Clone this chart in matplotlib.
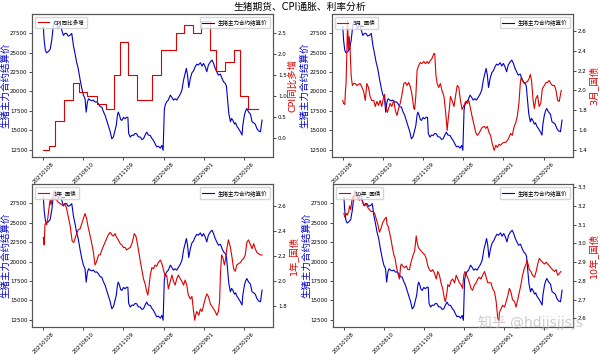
import matplotlib
matplotlib.use("Agg")
import matplotlib.pyplot as plt
from matplotlib.ticker import MultipleLocator
from matplotlib.lines import Line2D

plt.rcParams['font.family'] = ['DejaVu Sans', 'Noto Sans CJK SC']
plt.rcParams['axes.unicode_minus'] = False

# ---------------- data ----------------
date_tick_pos = [0, 100, 200, 300, 400, 500]
date_labels = ['20210108', '20210610', '20211109', '20220408', '20220901', '20230206']

# pig futures main-contract settlement price (trading-day index, value)
pig_idx = [0, 2, 5, 8, 12, 17, 21, 25, 29, 33, 37, 42, 46, 50, 54, 58, 62, 67, 71, 75,
           79, 83, 87, 92, 96, 100, 104, 107, 110, 113, 117, 121, 125, 129, 133, 137, 142, 146, 150, 154,
           158, 162, 167, 171, 175, 179, 182, 185, 187, 190, 193, 196, 200, 204, 208, 211, 213, 217, 221, 225,
           229, 233, 237, 242, 246, 250, 254, 258, 262, 267, 271, 275, 279, 283, 287, 292, 296, 299, 302, 304,
           308, 312, 317, 321, 325, 329, 333, 337, 342, 346, 350, 354, 357, 360, 363, 367, 371, 375, 379, 383,
           387, 392, 396, 400, 404, 408, 412, 417, 421, 425, 429, 433, 437, 442, 446, 450, 454, 457, 460, 463,
           467, 470, 473, 477, 480, 483, 487, 492, 496, 498, 502, 505, 508, 512, 517, 521, 525, 529, 533, 537,
           542, 546]
pig_val = [28310, 26600, 25310, 24970, 25100, 25400, 26600, 28490, 29100, 28740, 28060, 28740, 27890, 27200, 27460, 27460, 27110, 27240, 27460, 25910,
           24890, 23770, 22960, 21460, 20390, 19530, 19100, 17340, 18630, 19060, 18890, 18800, 18890, 18630, 18670, 18460, 18030, 17990, 17390, 16960,
           16310, 15630, 14810, 13910, 14170, 15030, 15630, 16960, 17340, 16960, 16400, 16270, 16660, 16490, 16700, 16660, 14600, 14130, 14390, 14340,
           14600, 14560, 14170, 14130, 13830, 13910, 14390, 14770, 14390, 14340, 13960, 13700, 13270, 12880, 12970, 12710, 13060, 12430, 17600, 18240,
           18670, 18890, 19530, 19230, 18890, 19060, 18890, 19230, 19660, 20170, 21460, 22310, 22960, 22100, 20510, 21670, 22400, 22660, 23170, 23510,
           23390, 23690, 23260, 23600, 23170, 22530, 23390, 23810, 24030, 23600, 22960, 22530, 22100, 22230, 21670, 21240, 21030, 20690, 18890, 17170,
           16100, 16530, 16310, 15800, 15970, 15540, 15240, 14810, 14390, 15670, 16960, 17510, 17810, 17390, 17080, 16100, 15970, 15800, 15240, 14940,
           14810, 16310]

# CPI YoY (step: start index of each month, value)
cpi_idx = [0, 15, 29, 52, 73, 90, 110, 133, 157, 177, 192, 212, 235, 271, 293, 331, 352, 373, 394, 415,
           432, 454, 475, 492, 512, 535]
cpi_val = [-0.3, -0.2, 0.4, 0.9, 1.3, 1.1, 1.0, 0.8, 0.7, 1.5, 2.3, 1.5, 0.9, 1.5, 2.1, 2.5, 2.7, 2.5, 2.8, 2.1,
           1.6, 1.8, 2.1, 1.0, 0.7, 0.7]

# 3-month treasury yield
m3_idx = [0, 2, 5, 7, 8, 10, 12, 14, 16, 18, 21, 24, 27, 31, 35, 39, 43, 47, 52, 56,
          60, 64, 68, 72, 77, 81, 85, 89, 93, 97, 102, 104, 107, 111, 114, 118, 122, 127, 131, 135,
          139, 143, 147, 152, 156, 160, 164, 168, 172, 177, 179, 182, 185, 189, 193, 197, 202, 206, 210, 214,
          218, 222, 227, 229, 232, 235, 239, 243, 247, 252, 256, 260, 262, 266, 268, 272, 277, 281, 285, 289,
          293, 297, 302, 306, 310, 314, 318, 322, 327, 331, 335, 339, 343, 347, 352, 356, 360, 364, 368, 372,
          377, 381, 385, 389, 393, 397, 402, 406, 410, 414, 418, 422, 427, 431, 435, 439, 442, 444, 447, 452,
          456, 460, 464, 467, 470, 474, 477, 481, 485, 489, 493, 497, 502, 506, 510, 514, 518, 522, 527, 531,
          535, 539, 544]
m3_val = [1.90, 1.87, 1.86, 2.02, 2.05, 2.34, 2.70, 2.41, 2.54, 2.44, 2.14, 2.05, 2.07, 2.07, 2.05, 2.06, 2.07, 2.04, 1.99, 1.90,
          2.07, 2.03, 1.94, 1.90, 1.90, 1.84, 1.89, 1.85, 1.90, 1.84, 1.94, 1.96, 1.84, 1.78, 1.82, 1.87, 1.84, 1.90, 1.80, 1.75,
          1.82, 1.87, 1.95, 2.07, 2.08, 2.05, 2.08, 2.04, 1.97, 1.82, 1.81, 1.95, 2.20, 2.25, 2.28, 2.27, 2.29, 2.27, 2.29, 2.27,
          2.30, 2.32, 2.37, 2.37, 2.15, 2.07, 2.03, 2.07, 2.00, 1.94, 1.79, 1.60, 1.69, 1.84, 1.94, 1.90, 1.84, 1.95, 2.05, 2.03,
          1.90, 1.81, 1.85, 1.89, 1.87, 1.90, 1.82, 1.74, 1.65, 1.58, 1.55, 1.57, 1.60, 1.63, 1.64, 1.62, 1.64, 1.58, 1.55, 1.47,
          1.40, 1.45, 1.43, 1.46, 1.45, 1.47, 1.48, 1.48, 1.50, 1.53, 1.57, 1.55, 1.64, 1.68, 1.75, 1.89, 2.07, 2.13, 2.10, 2.07,
          2.08, 2.09, 2.12, 2.16, 2.10, 1.90, 1.82, 1.92, 1.95, 1.84, 1.87, 2.02, 2.05, 2.08, 2.08, 2.10, 2.07, 2.05, 2.05, 2.00,
          1.90, 1.89, 2.00]

# 1-year treasury yield
y1_idx = [0, 2, 4, 7, 8, 11, 14, 17, 19, 22, 25, 28, 30, 33, 37, 42, 46, 50, 54, 58,
          62, 67, 69, 72, 76, 79, 83, 87, 92, 96, 100, 104, 108, 112, 117, 121, 125, 129, 132, 135,
          138, 142, 146, 150, 154, 158, 162, 167, 171, 175, 179, 183, 187, 192, 196, 200, 204, 208, 212, 217,
          221, 225, 227, 231, 233, 237, 242, 246, 250, 254, 258, 261, 263, 267, 271, 275, 279, 283, 287, 292,
          296, 300, 304, 308, 312, 317, 321, 325, 329, 333, 337, 342, 346, 350, 354, 358, 362, 367, 371, 375,
          378, 380, 383, 388, 392, 396, 400, 404, 408, 412, 417, 421, 425, 429, 433, 437, 440, 442, 445, 448,
          452, 455, 458, 462, 467, 471, 475, 479, 483, 487, 492, 496, 500, 504, 508, 512, 517, 521, 525, 529,
          533, 537, 542, 546]
y1_val = [2.35, 2.29, 2.45, 2.47, 2.45, 2.50, 2.58, 2.65, 2.61, 2.66, 2.67, 2.72, 2.65, 2.65, 2.63, 2.62, 2.61, 2.60, 2.62, 2.58,
          2.52, 2.44, 2.39, 2.32, 2.31, 2.34, 2.38, 2.41, 2.42, 2.46, 2.50, 2.54, 2.50, 2.43, 2.36, 2.30, 2.23, 2.13, 2.15, 2.18,
          2.21, 2.21, 2.25, 2.28, 2.31, 2.34, 2.37, 2.39, 2.37, 2.36, 2.38, 2.35, 2.33, 2.30, 2.29, 2.27, 2.27, 2.25, 2.26, 2.27,
          2.30, 2.35, 2.38, 2.36, 2.33, 2.26, 2.16, 2.09, 2.02, 1.98, 1.92, 1.89, 1.94, 2.05, 2.11, 2.10, 2.13, 2.12, 2.15, 2.17,
          2.14, 2.09, 2.04, 2.05, 1.94, 2.00, 2.05, 2.00, 1.97, 2.02, 2.05, 2.02, 2.00, 1.97, 2.01, 1.97, 1.89, 1.86, 1.88, 1.76,
          1.69, 1.73, 1.76, 1.73, 1.78, 1.76, 1.81, 1.86, 1.90, 1.88, 1.82, 1.80, 1.78, 1.76, 1.73, 1.76, 1.84, 2.05, 2.21, 2.19,
          2.13, 2.18, 2.26, 2.33, 2.27, 2.19, 2.10, 2.08, 2.13, 2.14, 2.15, 2.17, 2.18, 2.21, 2.31, 2.33, 2.29, 2.26, 2.30, 2.26,
          2.23, 2.22, 2.21, 2.21]

# 10-year treasury yield
y10_idx = [0, 2, 6, 8, 12, 14, 17, 20, 22, 25, 27, 31, 35, 39, 43, 47, 52, 56, 60, 64,
           68, 72, 77, 81, 85, 89, 93, 97, 102, 106, 108, 111, 114, 118, 122, 125, 128, 131, 135, 139,
           142, 144, 147, 152, 156, 160, 164, 168, 172, 177, 181, 183, 186, 189, 193, 197, 202, 206, 210, 214,
           218, 222, 227, 231, 235, 239, 243, 247, 252, 254, 258, 260, 264, 268, 272, 277, 281, 285, 289, 293,
           297, 300, 303, 307, 311, 314, 318, 322, 327, 331, 335, 339, 343, 347, 352, 356, 360, 364, 368, 372,
           377, 381, 385, 388, 389, 393, 397, 402, 406, 410, 414, 418, 422, 427, 431, 435, 439, 443, 447, 452,
           456, 458, 462, 464, 468, 472, 477, 481, 485, 489, 493, 497, 502, 506, 510, 514, 518, 522, 527, 531,
           535, 539, 543]
y10_val = [3.16, 3.14, 3.16, 3.15, 3.17, 3.20, 3.18, 3.23, 3.25, 3.23, 3.28, 3.25, 3.24, 3.23, 3.24, 3.22, 3.20, 3.21, 3.19, 3.18,
           3.17, 3.17, 3.16, 3.13, 3.10, 3.06, 3.08, 3.11, 3.13, 3.14, 3.10, 3.09, 3.06, 3.02, 2.97, 2.94, 2.92, 2.88, 2.84, 2.81,
           2.88, 2.89, 2.88, 2.87, 2.88, 2.86, 2.86, 2.90, 2.93, 2.96, 3.04, 3.01, 2.98, 2.97, 2.96, 2.95, 2.94, 2.92, 2.88, 2.86,
           2.85, 2.86, 2.84, 2.81, 2.85, 2.83, 2.79, 2.76, 2.70, 2.69, 2.74, 2.78, 2.77, 2.80, 2.81, 2.79, 2.83, 2.81, 2.79, 2.78,
           2.76, 2.83, 2.85, 2.83, 2.81, 2.79, 2.76, 2.75, 2.78, 2.79, 2.81, 2.82, 2.81, 2.83, 2.85, 2.82, 2.79, 2.79, 2.79, 2.76,
           2.74, 2.69, 2.60, 2.59, 2.63, 2.65, 2.67, 2.66, 2.69, 2.72, 2.76, 2.74, 2.70, 2.69, 2.66, 2.70, 2.74, 2.78, 2.83, 2.87,
           2.89, 2.91, 2.88, 2.86, 2.85, 2.83, 2.82, 2.85, 2.89, 2.92, 2.91, 2.90, 2.89, 2.90, 2.89, 2.88, 2.87, 2.86, 2.85, 2.86,
           2.83, 2.84, 2.85]

panels = [
    ('CPI同比多增', cpi_idx, cpi_val, 0.5, True),
    ('3月_国债', m3_idx, m3_val, 0.2, False),
    ('1年_国债', y1_idx, y1_val, 0.2, False),
    ('10年_国债', y10_idx, y10_val, 0.1, False),
]
pig_label = '生猪主力合约结算价'

# ---------------- figure ----------------
fig = plt.figure(figsize=(6.0, 3.54), dpi=100)
positions = [
    [0.054, 0.557, 0.401, 0.403],
    [0.553, 0.557, 0.402, 0.403],
    [0.054, 0.077, 0.401, 0.402],
    [0.555, 0.077, 0.400, 0.402],
]
spine_color = '#555555'
blue = '#0000cc'
red = '#dd0000'
for pos, (name, ridx, rval, rstep, is_step) in zip(positions, panels):
    ax = fig.add_axes(pos)
    ax2 = ax.twinx()
    ax.plot(pig_idx, pig_val, color=blue, lw=0.8)
    if is_step:
        ax2.plot(ridx, rval, color=red, lw=0.8, drawstyle='steps-post')
    else:
        ax2.plot(ridx, rval, color=red, lw=0.8)
    ax.set_xticks(date_tick_pos)
    ax.set_xticklabels(date_labels, rotation=45, fontsize=4)
    ax.yaxis.set_major_locator(MultipleLocator(2500))
    ax2.yaxis.set_major_locator(MultipleLocator(rstep))
    ax.tick_params(axis='y', labelsize=4, length=2, width=0.5, pad=1.5)
    ax.tick_params(axis='x', length=2, width=0.5, pad=1)
    ax2.tick_params(axis='y', labelsize=4, length=2, width=0.5, pad=1.5)
    ax.set_ylabel(pig_label, color=blue, fontsize=6.8)
    ax2.set_ylabel(name, color=red, fontsize=6.8)
    ax.yaxis.set_label_coords(-0.091, 0.5)
    ax2.yaxis.set_label_coords(1.064, 0.5)
    for a in (ax, ax2):
        for s in a.spines.values():
            s.set_color(spine_color)
            s.set_linewidth(0.8)
    h_red = Line2D([], [], color=red, lw=0.8)
    h_blue = Line2D([], [], color=blue, lw=0.8)
    leg1 = ax2.legend([h_red], [name], loc='upper left', fontsize=4, borderpad=0.5)
    ax2.add_artist(leg1)
    ax2.legend([h_blue], [pig_label], loc='upper right', fontsize=4, borderpad=0.5)

fig.suptitle('生猪期货、CPI通胀、利率分析', fontsize=7, y=0.995)
fig.text(0.972, 0.088, '知乎 @hdjjsjjsjs', fontsize=10, color='#aaaaaa', alpha=0.6,
         ha='right', va='center')

fig.savefig('out.png', dpi=100)
